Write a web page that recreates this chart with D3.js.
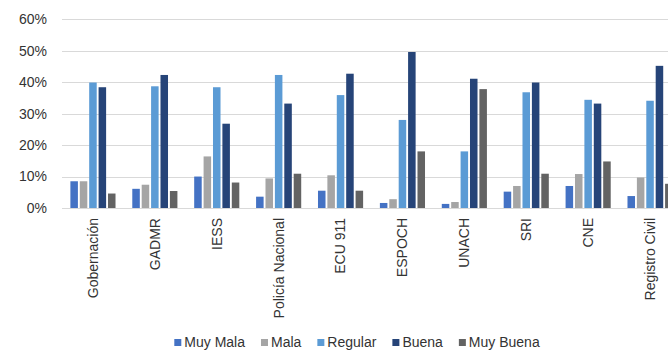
<!DOCTYPE html>
<html>
<head>
<meta charset="utf-8">
<script src="https://cdn.jsdelivr.net/npm/d3@7/dist/d3.min.js"></script>
<style>
  html, body { margin: 0; padding: 0; background: #fff; }
  svg { display: block; font-family: "Liberation Sans", Arial, sans-serif; }
</style>
</head>
<body>
<svg id="chart" width="668" height="351"></svg>
<script>
const categories = ["Gobernación", "GADMR", "IESS", "Policía Nacional", "ECU 911", "ESPOCH", "UNACH", "SRI", "CNE", "Registro Civil"];
const seriesNames = ["Muy Mala", "Mala", "Regular", "Buena", "Muy Buena"];
const muyMala  = [8.5, 6.1, 10.0, 3.6, 5.5, 1.6, 1.3, 5.2, 7.0, 3.8];
const mala     = [8.5, 7.4, 16.4, 9.4, 10.4, 2.8, 1.9, 7.0, 10.8, 9.7];
const regular  = [39.9, 38.7, 38.4, 42.3, 35.9, 28.0, 18.0, 36.8, 34.4, 34.1];
const buena    = [38.4, 42.3, 26.8, 33.2, 42.7, 49.6, 41.1, 39.9, 33.2, 45.2];
const muyBuena = [4.6, 5.4, 8.1, 10.9, 5.5, 18.0, 37.8, 10.9, 14.8, 7.7];
const yTicks = [0, 10, 20, 30, 40, 50, 60];
const colors = ["#4472C4", "#A5A5A5", "#5B9BD5", "#264478", "#636363"];

const seriesValues = [muyMala, mala, regular, buena, muyBuena];

const svg = d3.select("#chart");
const left = 62, bandStep = 61.9;
const x0 = d3.scaleBand().domain(categories).range([left, left + bandStep * categories.length]).padding(0);
const y = d3.scaleLinear().domain([0, 60]).range([208, 19.3]);
const groupW = x0.bandwidth() * 0.729;
const x1 = d3.scaleBand().domain(seriesNames).range([0, groupW]).paddingInner(0.2).paddingOuter(0);
const color = d3.scaleOrdinal().domain(seriesNames).range(colors);

// gridlines
svg.append("g").selectAll("line").data(yTicks).join("line")
  .attr("x1", left).attr("x2", 668)
  .attr("y1", d => Math.round(y(d)) + 0.5).attr("y2", d => Math.round(y(d)) + 0.5)
  .attr("stroke", "#d9d9d9").attr("stroke-width", 1);

// y labels
svg.append("g").selectAll("text").data(yTicks).join("text")
  .attr("x", 47).attr("y", d => y(d)).attr("dy", "0.35em")
  .attr("text-anchor", "end").attr("font-size", 14).attr("fill", "#333")
  .text(d => d + "%");

// bars
const groups = svg.append("g").selectAll("g").data(categories).join("g")
  .attr("transform", c => `translate(${x0(c) + (x0.bandwidth() - groupW) / 2},0)`);
groups.selectAll("rect")
  .data((c, i) => seriesNames.map((s, j) => ({ s, v: seriesValues[j][i] })))
  .join("rect")
  .attr("x", d => x1(d.s)).attr("width", x1.bandwidth())
  .attr("y", d => y(d.v)).attr("height", d => y(0) - y(d.v))
  .attr("fill", d => color(d.s));

// x labels
svg.append("g").selectAll("text").data(categories).join("text")
  .attr("transform", c => `translate(${x0(c) + x0.bandwidth() / 2},218) rotate(-90)`)
  .attr("dy", "0.35em").attr("text-anchor", "end")
  .attr("font-size", 14).attr("fill", "#333")
  .text(c => c);

// legend
const legend = svg.append("g");
const sq = 7, gap = 3, spacing = 16;
let cx = 0;
const items = [];
seriesNames.forEach(s => {
  const g = legend.append("g");
  g.append("rect").attr("x", 0).attr("y", -8).attr("width", sq).attr("height", sq).attr("fill", color(s));
  const t = g.append("text").attr("x", sq + gap).attr("y", 0).attr("font-size", 14).attr("fill", "#333").text(s);
  const w = sq + gap + t.node().getComputedTextLength();
  items.push({ g, x: cx });
  cx += w + spacing;
});
const totalW = cx - spacing;
const startX = 357 - totalW / 2;
items.forEach(it => it.g.attr("transform", `translate(${startX + it.x},347)`));
</script>
</body>
</html>
